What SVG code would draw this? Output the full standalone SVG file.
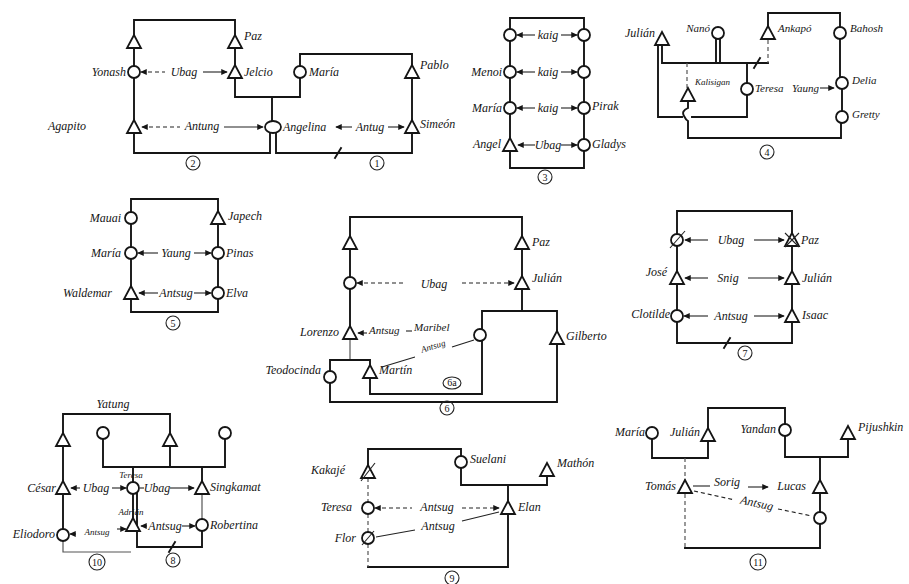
<svg xmlns="http://www.w3.org/2000/svg" xmlns:xlink="http://www.w3.org/1999/xlink" width="909" height="584" viewBox="0 0 909 584">
<style>
.l{fill:none;stroke:#151515;stroke-width:1.9;stroke-linecap:square}
.t{fill:none;stroke:#555;stroke-width:1.2}
.a{fill:none;stroke:#222;stroke-width:1.1}
.d{stroke-dasharray:4 3}
.s{fill:#fff;stroke:#151515;stroke-width:1.8}
text{font-family:"Liberation Serif",serif;font-style:italic;font-size:12px;fill:#151515}
.e{text-anchor:end}
.m{text-anchor:middle}
.sm{font-size:9px}
.md{font-size:11px}
.n{font-size:10px;font-style:normal;text-anchor:middle}
</style>
<defs>
<path id="tri" d="M0,-7 L7,6 L-7,6 Z"/>
<circle id="cir" r="6"/>
<marker id="ah" viewBox="0 0 8 8" refX="7" refY="4" markerWidth="6" markerHeight="6" orient="auto-start-reverse"><path d="M0,0.5 L8,4 L0,7.5 Z" fill="#151515"/></marker>
</defs>
<rect width="909" height="584" fill="#fff"/>

<!-- connectors -->
<g id="connectors">
<!-- diagram 1/2 -->
<path class="l" d="M134,35V20H235V35"/>
<path class="l" d="M134,49V66M235,49V65M134,78V120M412,78V120"/>
<path class="l" d="M134,133V153H270V133M276,133V153H412V133"/>
<path class="l" d="M235,78V97H300V78M272,97V121M300,66V54H412V65"/>
<path class="l" d="M335,158L341,148"/>
<path class="a d" d="M141,72H165" marker-start="url(#ah)"/>
<path class="a" d="M203,72H227" marker-end="url(#ah)"/>
<path class="a d" d="M142,127H180" marker-start="url(#ah)"/>
<path class="a" d="M224,127H263" marker-end="url(#ah)"/>
<path class="a" d="M352,127H336" marker-end="url(#ah)"/>
<path class="a" d="M388,127H404" marker-end="url(#ah)"/>
<!-- diagram 3 -->
<path class="l" d="M510,29V18H584V29M510,41V66M510,78V102M510,114V138M584,41V66M584,78V102M584,114V139M510,151V168H584V151"/>
<path class="a" d="M517,35H535" marker-start="url(#ah)"/><path class="a" d="M561,35H577" marker-end="url(#ah)"/>
<path class="a" d="M517,72H535" marker-start="url(#ah)"/><path class="a" d="M561,72H577" marker-end="url(#ah)"/>
<path class="a" d="M517,108H535" marker-start="url(#ah)"/><path class="a" d="M561,108H577" marker-end="url(#ah)"/>
<path class="a" d="M518,145H535" marker-start="url(#ah)"/><path class="a" d="M561,145H577" marker-end="url(#ah)"/>
<!-- diagram 4 -->
<path class="l" d="M768,26V13H840V27"/>
<path class="l" d="M662,63H768M716,39V63M720,39V63M662,46V63"/>
<path class="t d" d="M768,40V63M687,63V88"/>
<path class="l" d="M658,46V117H682M692,117H747V95"/>
<path class="l" d="M747,63V83"/>
<path class="l" d="M688,101V108Q681,111 684,116Q686,120 688,121V138H841V123"/>
<path class="l" d="M840,39V77M842,89V111"/>
<path class="l" d="M754,68L760,58"/>
<path class="a" d="M820,88H834" marker-end="url(#ah)"/>
<!-- diagram 5 -->
<path class="l" d="M131,212V199H218V212M131,224V247M218,225V247M131,259V287M218,259V287M131,299V312H218V299"/>
<path class="a" d="M138,253H158" marker-start="url(#ah)"/><path class="a" d="M194,253H211" marker-end="url(#ah)"/>
<path class="a" d="M139,293H158" marker-start="url(#ah)"/><path class="a" d="M194,293H211" marker-end="url(#ah)"/>
<!-- diagram 6 -->
<path class="l" d="M350,236V217H522V236M350,249V277M522,249V276M350,289V326"/>
<path class="l" d="M522,289V311M482,311H557V331M482,311V329M482,341V394H370V378M557,344V402H330V383"/>
<path class="t" d="M350,339V360"/>
<path class="l" d="M330,371V360H370V366"/>
<path class="a d" d="M357,283H405" marker-start="url(#ah)"/>
<path class="a d" d="M462,283H514" marker-end="url(#ah)"/>
<path class="a" d="M358,333H367" marker-start="url(#ah)"/>
<path class="a" d="M406,331H412"/>
<path class="a" d="M382,367L415,357M452,347L474,340"/>
<!-- diagram 7 -->
<path class="l" d="M677,233V211H792V233M677,246V272M792,246V272M677,284V310M792,284V310M677,322V343H792V322M724,348L730,338"/>
<path class="a" d="M685,240H708" marker-start="url(#ah)"/><path class="a" d="M754,240H784" marker-end="url(#ah)"/>
<path class="a" d="M685,278H708" marker-start="url(#ah)"/><path class="a" d="M748,278H784" marker-end="url(#ah)"/>
<path class="a" d="M684,316H708" marker-start="url(#ah)"/><path class="a" d="M754,316H784" marker-end="url(#ah)"/>
<!-- diagram 10/8 -->
<path class="l" d="M63,433V414H170V433M63,446V481M63,494V529"/>
<path class="l" d="M103,439V467H225V439M170,446V467M133,467V482M202,467V481M133,494V518M137,494V547H202V531"/>
<path class="t" d="M202,494V519M63,541V552H131"/>
<path class="l" d="M169,552L175,542"/>
<path class="a" d="M71,488H80" marker-start="url(#ah)"/><path class="a" d="M112,488H126" marker-end="url(#ah)"/>
<path class="a" d="M140,488H144"/><path class="a" d="M170,488H194" marker-end="url(#ah)"/>
<path class="a" d="M70,534H76" marker-start="url(#ah)"/><path class="a" d="M117,529H126" marker-end="url(#ah)"/>
<path class="a" d="M141,526H147" marker-start="url(#ah)"/><path class="a" d="M182,526H195" marker-end="url(#ah)"/>
<!-- diagram 9 -->
<path class="l" d="M368,465V449H461V456M461,468V485H547V476M508,485V501M508,514V567H368"/>
<path class="t d" d="M368,478V502M368,514V532M368,544V567"/>
<path class="a d" d="M375,508H412" marker-start="url(#ah)"/>
<path class="a d" d="M462,508H499" marker-end="url(#ah)"/>
<path class="a" d="M376,537L415,530M462,521L499,512"/>
<!-- diagram 11 -->
<path class="l" d="M652,439V458H708V441M708,428V408H785V424M785,436V457H848V439"/>
<path class="t d" d="M685,458V480M685,494V548"/>
<path class="l" d="M685,548H820V524M820,457V480M820,493V512"/>
<path class="a" d="M693,486H710"/>
<path class="a" d="M748,487H768" marker-end="url(#ah)"/>
<path class="a d" d="M694,491L735,500M778,509L812,516"/>
</g>

<!-- diagram 1/2 nodes -->
<g id="d2-top-male"><use href="#tri" x="134" y="42" class="s"/></g>
<g id="paz-1"><use href="#tri" x="235" y="42" class="s"/><text x="244" y="40">Paz</text></g>
<g id="yonash"><use href="#cir" x="134" y="72" class="s"/><text x="126" y="76" class="e">Yonash</text></g>
<g id="jelcio"><use href="#tri" x="235" y="72" class="s"/><text x="244" y="76">Jelcio</text></g>
<g id="ubag-1"><text x="184" y="76" class="m">Ubag</text></g>
<g id="agapito"><use href="#tri" x="134" y="127" class="s"/><text x="48" y="130">Agapito</text></g>
<g id="antung-1"><text x="202" y="130" class="m">Antung</text></g>
<g id="angelina"><ellipse cx="273" cy="127" rx="8" ry="6" class="s"/><text x="283" y="131">Angelina</text></g>
<g id="antug-1"><text x="370" y="131" class="m">Antug</text></g>
<g id="maria-1"><use href="#cir" x="300" y="72" class="s"/><text x="309" y="76">María</text></g>
<g id="pablo"><use href="#tri" x="412" y="72" class="s"/><text x="420" y="69">Pablo</text></g>
<g id="simeon"><use href="#tri" x="412" y="127" class="s"/><text x="420" y="128">Simeón</text></g>
<g id="num2"><circle cx="193" cy="163" r="7" class="a"/><text x="193" y="167" class="n">2</text></g>
<g id="num1"><circle cx="377" cy="163" r="7" class="a"/><text x="377" y="167" class="n">1</text></g>

<!-- diagram 3 -->
<g id="d3-r1l"><use href="#cir" x="510" y="35" class="s"/></g>
<g id="d3-r1r"><use href="#cir" x="584" y="35" class="s" stroke-width="2.6"/></g>
<g id="menoi"><use href="#cir" x="510" y="72" class="s"/><text x="502" y="76" class="e">Menoi</text></g>
<g id="d3-r2r"><use href="#cir" x="584" y="72" class="s"/></g>
<g id="maria-3"><use href="#cir" x="510" y="108" class="s"/><text x="502" y="112" class="e">María</text></g>
<g id="pirak"><use href="#cir" x="584" y="108" class="s"/><text x="592" y="110">Pirak</text></g>
<g id="angel"><use href="#tri" x="510" y="145" class="s"/><text x="501" y="148" class="e">Angel</text></g>
<g id="gladys"><use href="#cir" x="584" y="145" class="s"/><text x="592" y="148">Gladys</text></g>
<g id="d3-labels"><text x="548" y="39" class="m">kaig</text><text x="548" y="76" class="m">kaig</text><text x="548" y="112" class="m">kaig</text><text x="548" y="149" class="m">Ubag</text></g>
<g id="num3"><circle cx="545" cy="177" r="7" class="a"/><text x="545" y="181" class="n">3</text></g>

<!-- diagram 4 -->
<g id="julian-4"><use href="#tri" x="662" y="39" class="s"/><text x="655" y="37" class="e">Julián</text></g>
<g id="nano"><use href="#cir" x="718" y="33" class="s"/><text x="710" y="32" class="e md">Nanó</text></g>
<g id="ankapo"><use href="#tri" x="768" y="33" class="s"/><text x="778" y="32" class="md">Ankapó</text></g>
<g id="bahosh"><use href="#cir" x="840" y="33" class="s"/><text x="850" y="32" class="md">Bahosh</text></g>
<g id="kalisigan"><use href="#tri" x="688" y="95" class="s"/><text x="695" y="85" class="sm">Kalisigan</text></g>
<g id="teresa-4"><use href="#cir" x="747" y="89" class="s"/><text x="755" y="92" class="md">Teresa</text></g>
<g id="yaung-4"><text x="792" y="92" class="md">Yaung</text></g>
<g id="delia"><use href="#cir" x="842" y="83" class="s"/><text x="852" y="84" class="md">Delia</text></g>
<g id="gretty"><use href="#cir" x="842" y="117" class="s"/><text x="852" y="118" class="md">Gretty</text></g>
<g id="num4"><circle cx="767" cy="152" r="7" class="a"/><text x="767" y="156" class="n">4</text></g>

<!-- diagram 5 -->
<g id="mauai"><use href="#cir" x="131" y="218" class="s"/><text x="121" y="222" class="e">Mauai</text></g>
<g id="japech"><use href="#tri" x="218" y="218" class="s"/><text x="228" y="220">Japech</text></g>
<g id="maria-5"><use href="#cir" x="131" y="253" class="s"/><text x="121" y="257" class="e">María</text></g>
<g id="pinas"><use href="#cir" x="218" y="253" class="s"/><text x="226" y="257">Pinas</text></g>
<g id="waldemar"><use href="#tri" x="131" y="293" class="s"/><text x="112" y="297" class="e">Waldemar</text></g>
<g id="elva"><use href="#cir" x="218" y="293" class="s"/><text x="226" y="297">Elva</text></g>
<g id="d5-labels"><text x="176" y="257" class="m">Yaung</text><text x="176" y="297" class="m">Antsug</text></g>
<g id="num5"><circle cx="173" cy="323" r="7" class="a"/><text x="173" y="327" class="n">5</text></g>

<!-- diagram 6 -->
<g id="d6-top-male"><use href="#tri" x="350" y="243" class="s"/></g>
<g id="paz-6"><use href="#tri" x="522" y="243" class="s"/><text x="532" y="246">Paz</text></g>
<g id="d6-female"><use href="#cir" x="350" y="283" class="s"/></g>
<g id="julian-6"><use href="#tri" x="522" y="283" class="s"/><text x="532" y="282">Julián</text></g>
<g id="ubag-6"><text x="434" y="288" class="m">Ubag</text></g>
<g id="lorenzo"><use href="#tri" x="350" y="333" class="s"/><text x="339" y="336" class="e">Lorenzo</text></g>
<g id="antsug-6"><text x="369" y="334" class="md">Antsug</text></g>
<g id="maribel"><use href="#cir" x="480" y="335" class="s"/><text x="414" y="331" class="md">Maribel</text></g>
<g id="gilberto"><use href="#tri" x="557" y="338" class="s"/><text x="566" y="340">Gilberto</text></g>
<g id="teodocinda"><use href="#cir" x="330" y="377" class="s"/><text x="321" y="374" class="e">Teodocinda</text></g>
<g id="martin"><use href="#tri" x="370" y="372" class="s"/><text x="379" y="374">Martín</text></g>
<g id="antsug-6b"><text x="434" y="349" class="m sm" transform="rotate(-17 434 349)">Antsug</text></g>
<g id="num6a"><ellipse cx="452" cy="383" rx="9" ry="6" class="a"/><text x="452" y="386" class="n" font-size="8">6a</text></g>
<g id="num6"><circle cx="447" cy="408" r="7" class="a"/><text x="447" y="412" class="n">6</text></g>

<!-- diagram 7 -->
<g id="d7-deceased-left"><use href="#cir" x="677" y="240" class="s"/><path class="a" d="M670,248L685,231"/></g>
<g id="paz-7"><use href="#tri" x="792" y="240" class="s"/><path class="a" d="M785,233L799,247M799,233L785,247"/><text x="801" y="244">Paz</text></g>
<g id="jose"><use href="#tri" x="677" y="278" class="s"/><text x="667" y="276" class="e">José</text></g>
<g id="julian-7"><use href="#tri" x="792" y="278" class="s"/><text x="802" y="282">Julián</text></g>
<g id="clotilde"><use href="#cir" x="677" y="316" class="s"/><text x="670" y="318" class="e">Clotilde</text></g>
<g id="isaac"><use href="#tri" x="792" y="316" class="s"/><text x="802" y="319">Isaac</text></g>
<g id="d7-labels"><text x="731" y="244" class="m">Ubag</text><text x="728" y="282" class="m">Snig</text><text x="731" y="320" class="m">Antsug</text></g>
<g id="num7"><circle cx="745" cy="353" r="7" class="a"/><text x="745" y="357" class="n">7</text></g>

<!-- diagram 10/8 -->
<g id="yatung"><text x="113" y="408" class="m">Yatung</text></g>
<g id="d10-top-male"><use href="#tri" x="63" y="440" class="s"/></g>
<g id="d8-female-1"><use href="#cir" x="103" y="433" class="s"/></g>
<g id="d8-male"><use href="#tri" x="170" y="440" class="s"/></g>
<g id="d8-female-2"><use href="#cir" x="225" y="433" class="s"/></g>
<g id="cesar"><use href="#tri" x="63" y="488" class="s"/><text x="56" y="492" class="e">César</text></g>
<g id="teresa-8"><use href="#cir" x="133" y="488" class="s"/><text x="131" y="478" class="m sm">Teresa</text></g>
<g id="singkamat"><use href="#tri" x="202" y="488" class="s"/><text x="210" y="491">Singkamat</text></g>
<g id="eliodoro"><use href="#cir" x="63" y="535" class="s"/><text x="55" y="538" class="e">Eliodoro</text></g>
<g id="adrian"><use href="#tri" x="133" y="525" class="s"/><text x="131" y="515" class="m sm">Adrián</text></g>
<g id="robertina"><use href="#cir" x="202" y="525" class="s"/><text x="210" y="529">Robertina</text></g>
<g id="d8-labels"><text x="96" y="492" class="m">Ubag</text><text x="157" y="492" class="m">Ubag</text><text x="97" y="535" class="m sm">Antsug</text><text x="165" y="530" class="m">Antsug</text></g>
<g id="num10"><circle cx="97" cy="562" r="8" class="a"/><text x="97" y="566" class="n" font-size="9">10</text></g>
<g id="num8"><circle cx="173" cy="560" r="7" class="a"/><text x="173" y="564" class="n">8</text></g>

<!-- diagram 9 -->
<g id="kakaje"><use href="#tri" x="368" y="472" class="s"/><path class="a" d="M361,481L375,463"/><text x="345" y="474" class="e">Kakajé</text></g>
<g id="suelani"><use href="#cir" x="461" y="462" class="s"/><text x="470" y="463">Suelani</text></g>
<g id="mathon"><use href="#tri" x="547" y="470" class="s"/><text x="557" y="467">Mathón</text></g>
<g id="teresa-9"><use href="#cir" x="368" y="508" class="s"/><text x="352" y="511" class="e">Teresa</text></g>
<g id="elan"><use href="#tri" x="508" y="508" class="s"/><text x="518" y="511">Elan</text></g>
<g id="flor"><use href="#cir" x="368" y="538" class="s"/><path class="a" d="M362,545L374,531"/><text x="356" y="542" class="e">Flor</text></g>
<g id="d9-labels"><text x="437" y="511" class="m">Antsug</text><text x="438" y="530" class="m">Antsug</text></g>
<g id="num9"><circle cx="452" cy="578" r="7" class="a"/><text x="452" y="582" class="n">9</text></g>

<!-- diagram 11 -->
<g id="maria-11"><use href="#cir" x="652" y="433" class="s"/><text x="645" y="436" class="e">María</text></g>
<g id="julian-11"><use href="#tri" x="708" y="435" class="s"/><text x="700" y="436" class="e">Julián</text></g>
<g id="yandan"><use href="#cir" x="785" y="430" class="s"/><text x="776" y="433" class="e">Yandan</text></g>
<g id="pijushkin"><use href="#tri" x="848" y="433" class="s"/><text x="858" y="431">Pijushkin</text></g>
<g id="tomas"><use href="#tri" x="685" y="487" class="s"/><text x="676" y="490" class="e">Tomás</text></g>
<g id="lucas"><use href="#tri" x="820" y="487" class="s"/><text x="806" y="490" class="e">Lucas</text></g>
<g id="d11-female"><use href="#cir" x="820" y="518" class="s"/></g>
<g id="d11-labels"><text x="727" y="486" class="m">Sorig</text><text x="756" y="507" class="m" transform="rotate(12 756 507)">Antsug</text></g>
<g id="num11"><circle cx="758" cy="562" r="8" class="a"/><text x="758" y="566" class="n" font-size="9">11</text></g>
</svg>
